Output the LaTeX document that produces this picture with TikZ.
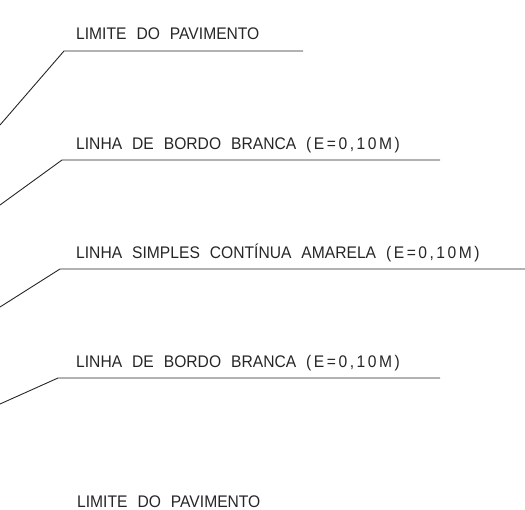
\documentclass[tikz,border=0pt]{standalone}
\usepackage{fontspec}
\usepackage{xcolor}
\usepackage{tikz}
\usetikzlibrary{positioning}
\newfontfamily\cadfont[FakeStretch=0.93,WordSpace=2.3]{Liberation Sans}
\newcommand{\cadwide}[1]{{\addfontfeature{LetterSpace=15}#1}}
\definecolor{CadInk}{HTML}{262626}

\begin{document}
\begin{tikzpicture}[
  x=1pt, y=-1pt,
  legend/.style={anchor=base west, inner sep=0pt, text=CadInk, font=\cadfont\fontsize{16.8}{18}\selectfont},
  leader/.style={draw=CadInk, line width=0.9pt}
]
\useasboundingbox (0,0) rectangle (525,509);

% Line 1: pavement limit (top)
\coordinate (s1) at (0,125);
\coordinate (k1) at (64,51);
\coordinate (e1) at (303,51);
\node[legend] (t1) at (76,39.5) {LIMITE DO PAVIMENTO};
\draw[leader] (s1) -- (k1) -- (e1);

% Line 2: white edge line
\coordinate (s2) at (0,205);
\coordinate (k2) at (62,160);
\coordinate (e2) at (440,160);
\node[legend] (t2) at (76,149) {LINHA DE BORDO BRANCA \cadwide{(E=0,10M)}};
\draw[leader] (s2) -- (k2) -- (e2);

% Line 3: yellow centre line
\coordinate (s3) at (0,307);
\coordinate (k3) at (60,269);
\coordinate (e3) at (525,269);
\node[legend] (t3) at (76,258) {LINHA SIMPLES CONTÍNUA AMARELA \cadwide{(E=0,10M)}};
\draw[leader] (s3) -- (k3) -- (e3);

% Line 4: white edge line
\coordinate (s4) at (0,404);
\coordinate (k4) at (58,378);
\coordinate (e4) at (440,378);
\node[legend] (t4) at (76,367) {LINHA DE BORDO BRANCA \cadwide{(E=0,10M)}};
\draw[leader] (s4) -- (k4) -- (e4);

% Line 5: pavement limit (bottom)
\node[legend] (t5) at (77,507) {LIMITE DO PAVIMENTO};

\end{tikzpicture}
\end{document}
